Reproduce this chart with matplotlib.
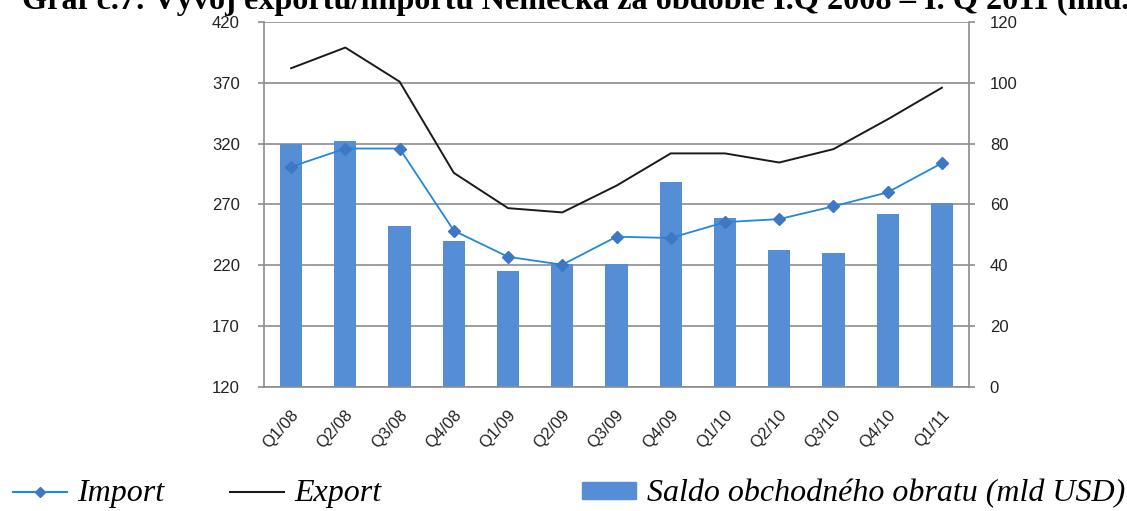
import matplotlib
matplotlib.use("Agg")
import matplotlib.pyplot as plt
from matplotlib.lines import Line2D
from matplotlib.patches import Patch
import numpy as np

categories = ["Q1/08", "Q2/08", "Q3/08", "Q4/08", "Q1/09", "Q2/09", "Q3/09",
              "Q4/09", "Q1/10", "Q2/10", "Q3/10", "Q4/10", "Q1/11"]
import_vals = [301, 316, 316, 248.5, 227, 220.5, 243.5, 242.5, 255.5, 258, 268.5, 280, 304]
export_vals = [382, 399, 371, 296, 267, 263.5, 285.5, 312, 312, 304.5, 315.5, 340, 366]
saldo_vals = [80, 81, 53, 48, 38, 40.3, 40.3, 67.5, 55.7, 45, 44, 57, 60.5]

left_ticks = [120, 170, 220, 270, 320, 370, 420]
right_ticks = [0, 20, 40, 60, 80, 100, 120]

title = "Graf č.7: Vývoj exportu/importu Nemecka za obdobie I.Q 2008 – I. Q 2011 (mld. USD)"

W, H = 1127, 511
fig = plt.figure(figsize=(W / 100, H / 100), dpi=100)
ax = fig.add_axes([264 / W, 1 - 387 / H, (969 - 264) / W, (387 - 22) / H])
ax2 = ax.twinx()
ax.set_zorder(ax2.get_zorder() + 1)
ax.patch.set_visible(False)

x = np.arange(len(categories))
bar_color = "#558ED5"
grid_color = "#8c8c8c"
label_color = "#222222"

ax2.bar(x, saldo_vals, width=0.41, color=bar_color, zorder=2)
ax2.set_ylim(0, 120)
ax2.set_yticks(right_ticks)
for t in right_ticks:
    ax2.axhline(t, color=grid_color, lw=1.2, zorder=1)

ax.plot(x, export_vals, color="#1a1a1a", lw=1.4, zorder=3)
ax.plot(x, import_vals, color="#2288DA", lw=1.3, marker="D", markersize=6,
        markerfacecolor="#3D78C4", markeredgecolor="#3D78C4", zorder=4)
ax.set_ylim(120, 420)
ax.set_yticks(left_ticks)
ax.set_xlim(-0.5, len(categories) - 0.5)

# x ticks at category boundaries (Excel style), labels near centers
ax.set_xticks(np.arange(-0.5, len(categories), 1.0))
ax.set_xticklabels([])
ax.set_xticks(x + 0.09, minor=True)
ax.set_xticklabels(categories, minor=True, rotation=48, ha="right", va="center",
                   rotation_mode="anchor", fontsize=12, family="Liberation Sans",
                   color=label_color)
ax.tick_params(axis="x", which="major", length=4.5, width=1.2, color=grid_color, direction="out")
ax.tick_params(axis="x", which="minor", length=0, pad=18)
ax2.set_xticks([])

for a in (ax, ax2):
    for s in a.spines.values():
        s.set_visible(False)
for a, side in ((ax, "left"), (ax, "bottom"), (ax2, "right")):
    a.spines[side].set_visible(True)
    a.spines[side].set_color(grid_color)
    a.spines[side].set_linewidth(1.2)

ax.tick_params(axis="y", length=4.5, width=1.2, color=grid_color, labelsize=12,
               labelcolor=label_color, pad=13)
ax2.tick_params(axis="y", length=4.5, width=1.2, color=grid_color, labelsize=12,
                labelcolor=label_color, pad=10.5)
for lab in ax.get_yticklabels() + ax2.get_yticklabels():
    lab.set_family("Liberation Sans")

fig.text(22 / W, 1 - 9.5 / H, title, fontsize=23.2, fontweight="bold",
         family="Liberation Serif", va="baseline", ha="left")

leg_font = dict(family="Liberation Serif", style="italic", size=23)
h_import = Line2D([], [], color="#2288DA", lw=1.5, marker="D", markersize=5,
                  markerfacecolor="#3D78C4", markeredgecolor="#3D78C4")
h_export = Line2D([], [], color="#1a1a1a", lw=1.5)
h_saldo = Patch(facecolor=bar_color, edgecolor=bar_color)
specs = [(h_import, "Import", 13), (h_export, "Export", 230),
         (h_saldo, "Saldo obchodného obratu (mld USD)", 582)]
for h, lab, px in specs:
    fig.legend([h], [lab], loc="center left", bbox_to_anchor=(px / W, 1 - 494 / H),
               frameon=False, prop=leg_font, handlelength=1.7, handleheight=0.45,
               handletextpad=0.32, borderaxespad=0, borderpad=0)

fig.savefig("out.png", dpi=100)
